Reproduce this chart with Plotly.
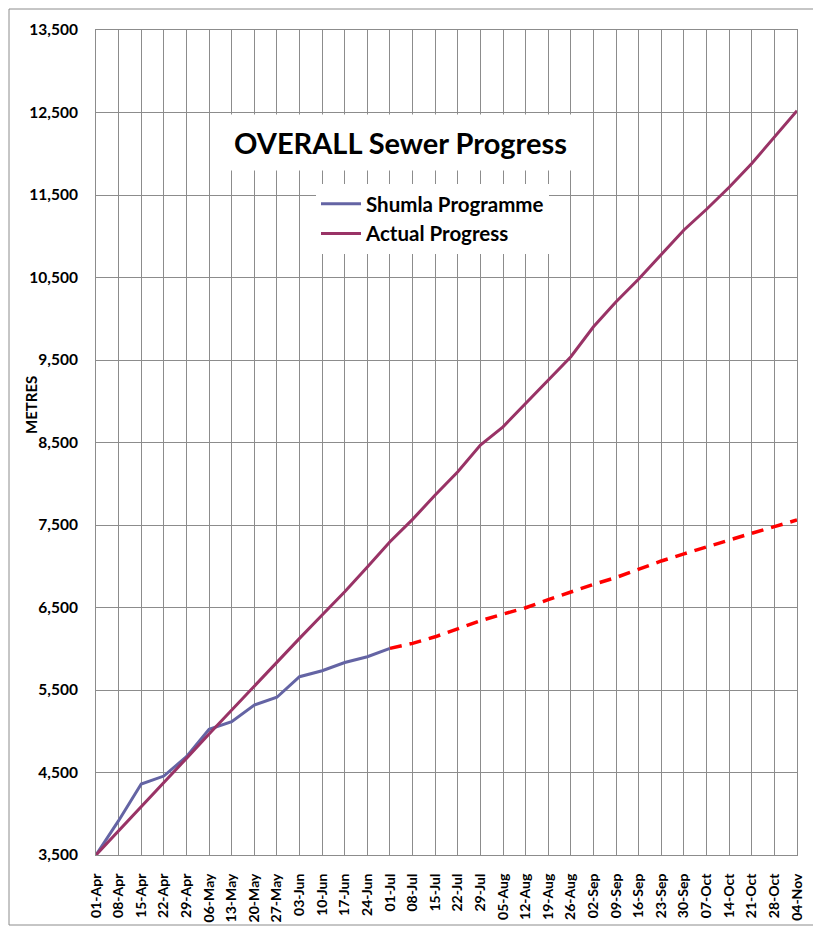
import plotly.graph_objects as go

weeks = ["01-Apr", "08-Apr", "15-Apr", "22-Apr", "29-Apr", "06-May", "13-May", "20-May",
         "27-May", "03-Jun", "10-Jun", "17-Jun", "24-Jun", "01-Jul", "08-Jul", "15-Jul",
         "22-Jul", "29-Jul", "05-Aug", "12-Aug", "19-Aug", "26-Aug", "02-Sep", "09-Sep",
         "16-Sep", "23-Sep", "30-Sep", "07-Oct", "14-Oct", "21-Oct", "28-Oct", "04-Nov"]

shumla = [3500, 3916, 4360, 4457, 4692, 5023, 5115, 5318, 5412, 5661, 5733, 5833, 5903, 6005]

actual = [3500, 3790, 4085, 4376, 4671, 4967, 5258, 5548, 5843, 6126, 6409, 6691, 6990, 7298,
          7568, 7864, 8145, 8470, 8690, 8974, 9258, 9540, 9903, 10206, 10482, 10773,
          11076, 11327, 11594, 11882, 12206, 12521]

trend = [6005, 6065, 6145, 6240, 6339, 6420, 6497, 6595, 6690, 6780, 6864, 6965, 7064,
         7150, 7237, 7320, 7400, 7480, 7561]

y_ticks = [3500, 4500, 5500, 6500, 7500, 8500, 9500, 10500, 11500, 12500, 13500]

FONT = "Lato"
x_all = list(range(len(weeks)))

# page body adds an 8px offset; plot area target on screen: x 96-797, y 30-855
OFF = 8
PL, PR, PT, PB = 96, 797, 30, 855
W, H = PR - PL, PB - PT


def px(sx):
    return (sx - PL) / W


def py(sy):
    return (PB - sy) / H


fig = go.Figure()
fig.add_trace(go.Scatter(x=x_all[:len(shumla)], y=shumla, mode="lines", name="Shumla Programme",
                         line=dict(color="#6464A4", width=3)))
fig.add_trace(go.Scatter(x=x_all, y=actual, mode="lines", name="Actual Progress",
                         line=dict(color="#993366", width=3)))
fig.add_trace(go.Scatter(x=x_all[len(shumla) - 1:], y=trend, mode="lines", showlegend=False,
                         line=dict(color="#FF0000", width=3.5, dash="12px,8px")))

fig.update_layout(
    width=821, height=929,
    margin=dict(l=PL - OFF, r=821 - PR + OFF, t=PT - OFF, b=929 - PB + OFF),
    paper_bgcolor="white", plot_bgcolor="white",
    font=dict(family=FONT, color="black"),
    showlegend=True,
    legend=dict(x=px(316), y=py(184), xanchor="left", yanchor="top",
                bgcolor="white", font=dict(family=FONT, size=20.5, color="black", weight="bold"),
                itemwidth=40, tracegroupgap=0),
    xaxis=dict(range=[0, len(weeks) - 1], tickmode="array", tickvals=x_all, ticktext=weeks,
               tickangle=-90, showgrid=True, gridcolor="#8C8C8C", gridwidth=1,
               showline=True, linecolor="#8C8C8C", mirror=True, zeroline=False,
               ticks="", ticklabelstandoff=12,
               tickfont=dict(family=FONT, size=14, color="black", weight="bold")),
    yaxis=dict(range=[3500, 13500], tickmode="array", tickvals=y_ticks, tickformat=",d",
               showgrid=True, gridcolor="#8C8C8C", gridwidth=1, zeroline=False,
               showline=True, linecolor="#8C8C8C", mirror=True, ticks="",
               ticklabelstandoff=14,
               tickfont=dict(family=FONT, size=15.5, color="black", weight="bold")),
    annotations=[
        dict(text="OVERALL Sewer Progress", xref="paper", yref="paper",
             x=px(400), y=py(142), xanchor="center", yanchor="middle",
             showarrow=False, bgcolor="white", borderpad=10,
             font=dict(family=FONT, size=29, color="black", weight="bold")),
        dict(text="METRES", xref="paper", yref="paper", x=px(31),
             y=py(405), xanchor="center", yanchor="middle", textangle=-90,
             showarrow=False, font=dict(family=FONT, size=15, color="black", weight="bold")),
    ],
    shapes=[dict(type="rect", xref="paper", yref="paper",
                 x0=px(9), x1=px(818), y0=py(925), y1=py(9),
                 line=dict(color="#8C8C8C", width=1), fillcolor="rgba(0,0,0,0)", layer="below")],
)

fig.write_html("out.html")
